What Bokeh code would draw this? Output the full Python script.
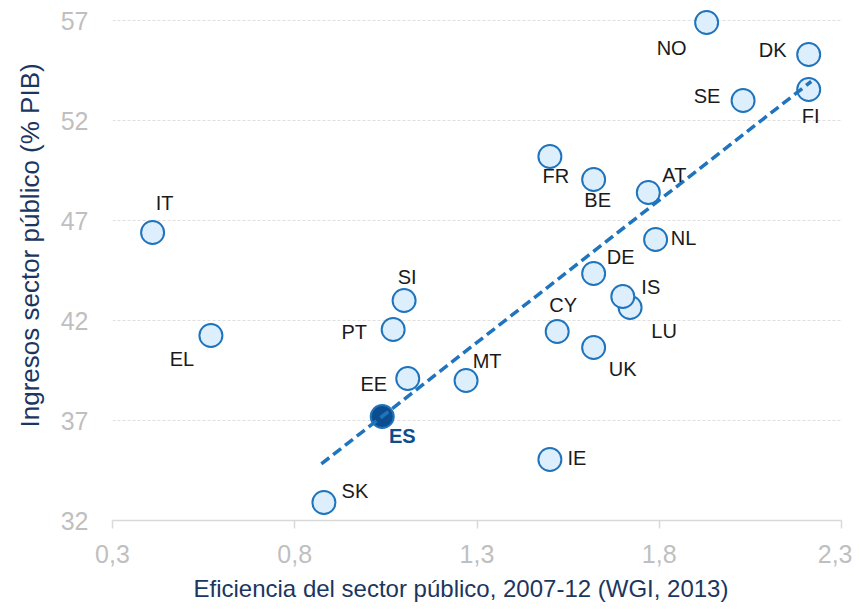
from bokeh.plotting import figure
from bokeh.models import ColumnDataSource, Range1d, FixedTicker, Title
from bokeh.core.properties import value
from bokeh.embed import file_html
from bokeh.resources import INLINE

# ---- data ----
countries = ["IT", "EL", "PT", "SI", "EE", "ES", "SK", "MT", "CY", "UK", "IE",
             "LU", "IS", "DE", "NL", "AT", "BE", "FR", "SE", "FI", "DK", "NO"]
efficiency = [0.41, 0.57, 1.07, 1.10, 1.11, 1.04, 0.88, 1.27, 1.52, 1.62, 1.50,
              1.72, 1.70, 1.62, 1.79, 1.77, 1.62, 1.50, 2.03, 2.21, 2.21, 1.93]
revenue = [46.4, 41.25, 41.55, 43.0, 39.1, 37.2, 32.9, 39.0, 41.45, 40.65, 35.05,
           42.65, 43.2, 44.35, 46.05, 48.4, 49.05, 50.2, 53.0, 53.55, 55.3, 56.9]
highlight = "ES"

trend_x = [0.873, 2.217]
trend_y = [34.83, 53.95]

x_ticks = [0.3, 0.8, 1.3, 1.8, 2.3]
x_tick_labels = ["0,3", "0,8", "1,3", "1,8", "2,3"]
y_ticks = [32, 37, 42, 47, 52, 57]

x_title = "Eficiencia del sector público, 2007-12 (WGI, 2013)"
y_title = "Ingresos sector público (% PIB)"

# ---- label placement (pixels, style only) ----
label_offsets = {
    "IT": (12, -30), "EL": (-29, 23), "PT": (-39, 2), "SI": (3, -24),
    "EE": (-34, 5), "ES": (20, 19), "SK": (31, -12), "MT": (21, -20),
    "CY": (6, -27), "UK": (29, 21), "IE": (27, -2), "LU": (34, 23),
    "IS": (28, -10), "DE": (27, -17), "NL": (28, -2), "AT": (26, -18),
    "BE": (4, 20), "FR": (6, 19), "SE": (-36, -5), "FI": (2, 26),
    "DK": (-36, -5), "NO": (-35, 25),
}

FONT = "Liberation Sans"
NAVY = "#1b365f"
EDGE = "#1f74bd"
FILL = "#ddeffc"
DARK = "#0b4d8d"

normal = [i for i, c in enumerate(countries) if c != highlight]
hi = [i for i, c in enumerate(countries) if c == highlight]

def make_source(idx):
    return ColumnDataSource(dict(
        x=[efficiency[i] for i in idx],
        y=[revenue[i] for i in idx],
        t=[countries[i] for i in idx],
        dx=[label_offsets[countries[i]][0] for i in idx],
        dy=[label_offsets[countries[i]][1] for i in idx],
    ))

src_n = make_source(normal)
src_h = make_source(hi)

p = figure(width=852, height=612, output_backend="svg", toolbar_location=None,
           x_range=Range1d(0.3, 2.3), y_range=Range1d(32, 57.6),
           min_border_left=112, min_border_right=11, min_border_top=8,
           min_border_bottom=92)
p.outline_line_color = None
p.background_fill_color = "white"
p.border_fill_color = "white"

# grid
p.xgrid.grid_line_color = None
p.ygrid.ticker = FixedTicker(ticks=y_ticks)
p.ygrid.grid_line_color = "#dedede"
p.ygrid.grid_line_dash = "3 2"
p.ygrid.grid_line_width = 1

# x axis
xa = p.xaxis[0]
xa.ticker = FixedTicker(ticks=x_ticks)
xa.major_label_overrides = dict(zip(x_ticks, x_tick_labels))
xa.axis_line_color = "#d9d9d9"
xa.axis_line_width = 1.5
xa.major_tick_line_color = "#d9d9d9"
xa.major_tick_line_width = 1.5
xa.major_tick_out = 8
xa.major_tick_in = 0
xa.minor_tick_line_color = None
xa.major_label_text_font = FONT
xa.major_label_text_font_size = "25px"
xa.major_label_text_color = "#bfbfbf"
xa.major_label_standoff = 16

# y axis
ya = p.yaxis[0]
ya.ticker = FixedTicker(ticks=y_ticks)
ya.axis_line_color = None
ya.major_tick_line_color = None
ya.minor_tick_line_color = None
ya.major_tick_out = 0
ya.major_label_text_font = FONT
ya.major_label_text_font_size = "25px"
ya.major_label_text_color = "#bfbfbf"
ya.major_label_standoff = 24

# axis titles
p.add_layout(Title(text=x_title, align="left", offset=81, vertical_align="middle",
                   standoff=16, text_font=FONT, text_font_size="24px",
                   text_font_style="normal", text_color=NAVY), "below")
p.add_layout(Title(text=y_title, align="left", offset=93, vertical_align="middle",
                   standoff=24, text_font=FONT, text_font_size="26px",
                   text_font_style="normal", text_color=NAVY), "left")

# points
p.scatter("x", "y", source=src_n, size=23, fill_color=FILL, line_color=EDGE,
          line_width=2)
p.scatter("x", "y", source=src_h, size=23, fill_color=DARK, line_color=EDGE,
          line_width=2)

# trend line
p.line(trend_x, trend_y, line_color=EDGE, line_width=3.5, line_dash="10 5")

# labels
p.text("x", "y", text="t", source=src_n, x_offset="dx", y_offset="dy",
       text_font=value(FONT), text_font_size="20px", text_color="#1a1a1a",
       text_align="center", text_baseline="middle")
p.text("x", "y", text="t", source=src_h, x_offset="dx", y_offset="dy",
       text_font=value(FONT), text_font_size="20px", text_color=DARK,
       text_font_style="bold", text_align="center", text_baseline="middle")

open("out.html", "w").write(file_html(p, INLINE))
